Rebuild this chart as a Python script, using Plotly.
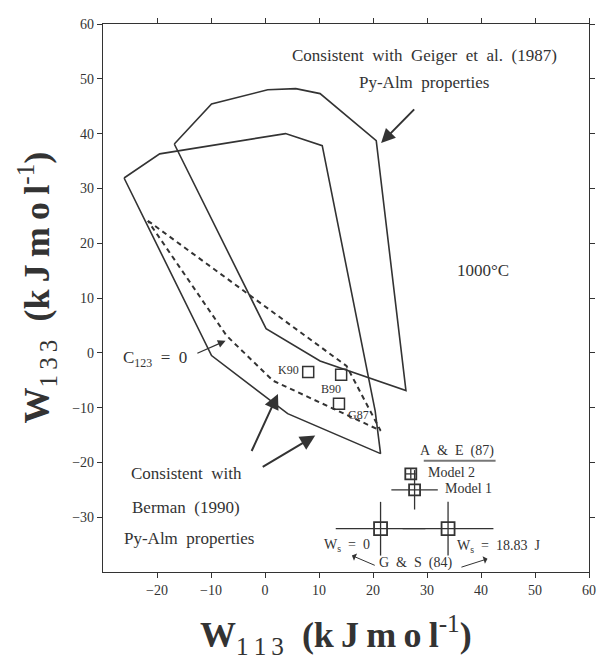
import plotly.graph_objects as go

# ---- data (kJ/mol) ----
geiger_x = [-16.8, -9.9, 0.5, 5.7, 10.2, 20.6, 26.1, 10.2, 0.2, -16.8]
geiger_y = [38.1, 45.4, 48.0, 48.2, 47.3, 38.7, -6.9, -1.5, 4.4, 38.1]

berman_x = [-26.1, -19.5, 3.8, 10.6, 20.4, 21.4, 4.2, -9.9, -26.1]
berman_y = [31.9, 36.3, 40.0, 37.8, -10.6, -18.4, -11.1, -0.5, 31.9]

c123_x = [-21.7, 15.1, 21.4, 1.5, -7.1, -21.7]
c123_y = [24.1, -2.4, -14.2, -5.1, 3.1, 24.1]

lit_names = ["K90", "B90", "G87"]
lit_x = [8.0, 14.1, 13.7]
lit_y = [-3.5, -4.0, -9.3]

ae_names = ["Model 2", "Model 1"]
ae_x = [27.0, 27.7]
ae_y = [-22.1, -25.0]
ae_ex = [0.9, 4.3]
ae_ey = [0.9, 3.6]

gs_names = ["W_s = 0", "W_s = 18.83 J"]
gs_x = [21.4, 33.9]
gs_y = [-32.1, -32.1]
gs_ex = [8.3, 8.4]
gs_ey = [4.9, 4.9]

x_ticks = [-20, -10, 0, 10, 20, 30, 40, 50, 60]
y_ticks = [-30, -20, -10, 0, 10, 20, 30, 40, 50, 60]

INK = "#333333"
FONT = "Liberation Serif"

fig = go.Figure()
fig.add_trace(go.Scatter(x=geiger_x, y=geiger_y, mode="lines",
                         line=dict(color=INK, width=1.6), showlegend=False))
fig.add_trace(go.Scatter(x=berman_x, y=berman_y, mode="lines",
                         line=dict(color=INK, width=1.6), showlegend=False))
fig.add_trace(go.Scatter(x=c123_x, y=c123_y, mode="lines",
                         line=dict(color=INK, width=2, dash="5px,4px"), showlegend=False))
fig.add_trace(go.Scatter(x=lit_x, y=lit_y, mode="markers",
                         marker=dict(symbol="square-open", size=11, color=INK,
                                     line=dict(width=1.5)), showlegend=False))
fig.add_trace(go.Scatter(x=ae_x, y=ae_y, mode="markers",
                         marker=dict(symbol="square-open", size=11, color=INK,
                                     line=dict(width=1.8)),
                         error_x=dict(type="data", array=ae_ex, width=0, color=INK, thickness=1.3),
                         error_y=dict(type="data", array=ae_ey, width=0, color=INK, thickness=1.3),
                         showlegend=False))
fig.add_trace(go.Scatter(x=gs_x, y=gs_y, mode="markers",
                         marker=dict(symbol="square-open", size=13, color=INK,
                                     line=dict(width=1.8)),
                         error_x=dict(type="data", array=gs_ex, width=0, color=INK, thickness=1.3),
                         error_y=dict(type="data", array=gs_ey, width=0, color=INK, thickness=1.3),
                         showlegend=False))

ann = []
def txt(x, y, s, size=15, xanchor="center", color=INK):
    ann.append(dict(x=x, y=y, xref="x", yref="y", text=s, showarrow=False,
                    xanchor=xanchor, yanchor="middle",
                    font=dict(family=FONT, size=size, color=color)))

def arrow(x0, y0, x1, y1, head=2, size=1.6, width=1.8):
    ann.append(dict(x=x1, y=y1, ax=x0, ay=y0, xref="x", yref="y", axref="x", ayref="y",
                    text="", showarrow=True, arrowhead=head, arrowsize=size,
                    arrowwidth=width, arrowcolor=INK))

txt(29.6, 54.2, "Consistent&nbsp; with&nbsp; Geiger&nbsp; et&nbsp; al.&nbsp; (1987)", 17)
txt(29.4, 49.3, "Py-Alm&nbsp; properties", 17)
arrow(27.9, 44.7, 21.5, 38.3, head=2, size=1.4, width=2)
txt(40.3, 15.0, "1000°C", 17)
txt(-20.4, -1.1, "C<sub>123</sub>&nbsp; =&nbsp; 0", 17)
arrow(-12.8, -0.2, -7.3, 2.2, head=2, size=1.2, width=1.3)
txt(-14.6, -22.1, "Consistent&nbsp; with", 17)
txt(-14.6, -28.2, "Berman&nbsp; (1990)", 17)
txt(-14.1, -33.9, "Py-Alm&nbsp; properties", 17)
arrow(-2.6, -18.2, 2.4, -7.5, head=2, size=1.5, width=2)
arrow(-0.7, -21.0, 9.3, -15.1, head=2, size=1.5, width=2)
txt(4.4, -3.1, lit_names[0], 12, "center")
txt(12.2, -6.6, lit_names[1], 12, "center")
txt(17.3, -11.3, lit_names[2], 12, "center")
txt(35.6, -18.0, "A&nbsp; &amp;&nbsp; E&nbsp; (87)", 14)
txt(29.9, -21.9, ae_names[0], 14, "left")
txt(33.0, -24.8, ae_names[1], 14, "left")
txt(15.1, -35.2, "W<sub>s</sub>&nbsp; =&nbsp; 0", 14)
txt(43.2, -35.4, "W<sub>s</sub>&nbsp; =&nbsp; 18.83&nbsp; J", 14)
txt(27.9, -38.4, "G&nbsp; &amp;&nbsp; S&nbsp; (84)", 14)
arrow(20.6, -38.9, 16.1, -37.0, head=1, size=1.3, width=1)
arrow(36.1, -39.2, 41.2, -37.6, head=1, size=1.3, width=1)

# axis titles (letter-spaced like the original)
S = "&#8201;"
def axis_title(sub):
    return ("<b>W</b><sub>" + S.join(sub) + "</sub>&nbsp;&nbsp;<b>(" +
            S.join("kJmol") + "</b><sup>-1</sup><b>)</b>")

ann.append(dict(x=0.48, y=-0.115, xref="paper", yref="paper", showarrow=False,
                text=axis_title("113"), xanchor="center", yanchor="middle",
                font=dict(family=FONT, size=36, color=INK)))
ann.append(dict(x=-0.135, y=0.52, xref="paper", yref="paper", showarrow=False,
                text=axis_title("133"), textangle=-90, xanchor="center", yanchor="middle",
                font=dict(family=FONT, size=36, color=INK)))

# page body has an 8px margin: figure origin sits at (8, 8) in the window
fig.update_layout(
    width=597, height=652,
    margin=dict(l=95, r=9, t=16, b=88),
    paper_bgcolor="white", plot_bgcolor="white",
    annotations=ann,
    shapes=[dict(type="line", xref="x", yref="y", x0=29.4, x1=42.7, y0=-19.7, y1=-19.7,
                 line=dict(color="#777777", width=2))],
)
axis_common = dict(showgrid=False, zeroline=False, showline=True, linecolor=INK, linewidth=1.3,
                   ticks="outside", ticklen=5, tickcolor=INK, tickwidth=1, mirror="ticks",
                   tickfont=dict(family=FONT, size=14, color=INK))
fig.update_xaxes(range=[-30, 60], tickvals=x_ticks, **axis_common)
fig.update_yaxes(range=[-40, 60], tickvals=y_ticks, **axis_common)

fig.write_html("out.html")
